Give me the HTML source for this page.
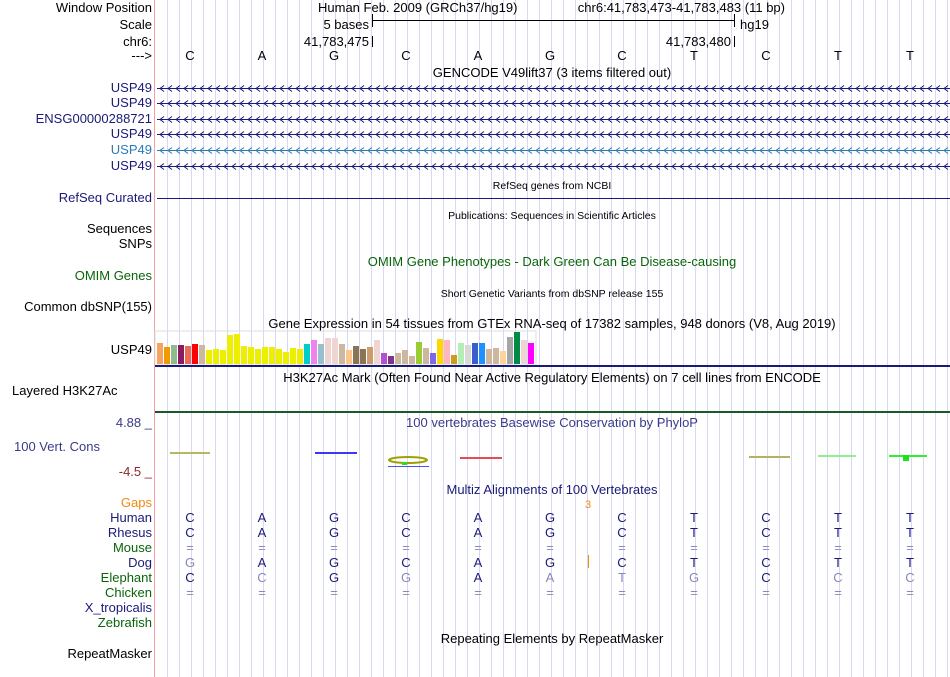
<!DOCTYPE html>
<html><head><meta charset="utf-8"><style>
body{margin:0;background:#fff;width:950px;height:677px;overflow:hidden}
svg{display:block;font-family:"Liberation Sans",sans-serif;font-size:13px}
</style></head><body>
<svg id="c" width="950" height="677">
<g id="grid"></g>
<line x1="154.5" y1="0" x2="154.5" y2="677" stroke="#f4a0a0"/>
<g text-anchor="end" fill="#000">
<text x="152" y="12">Window Position</text>
<text x="152" y="29">Scale</text>
<text x="152" y="46">chr6:</text>
<text x="152" y="60">---&gt;</text>
<text x="152" y="92" fill="#1a1a78">USP49</text>
<text x="152" y="107" fill="#1a1a78">USP49</text>
<text x="152" y="123" fill="#1a1a78">ENSG00000288721</text>
<text x="152" y="138" fill="#1a1a78">USP49</text>
<text x="152" y="154" fill="#2a7ab8">USP49</text>
<text x="152" y="170" fill="#1a1a78">USP49</text>
<text x="152" y="202" fill="#1a1a78">RefSeq Curated</text>
<text x="152" y="233">Sequences</text>
<text x="152" y="248">SNPs</text>
<text x="152" y="280" fill="#0a640a">OMIM Genes</text>
<text x="152" y="311">Common dbSNP(155)</text>
<text x="152" y="354">USP49</text>
<text x="152" y="427" fill="#3a3a8a">4.88 _</text>
<text x="152" y="476" fill="#8a2a2a">-4.5 _</text>
<text x="152" y="507" fill="#f08a10">Gaps</text>
<text x="152" y="658">RepeatMasker</text>
</g>
<text x="12" y="395">Layered H3K27Ac</text>
<text x="14" y="451" fill="#3a3a8a">100 Vert. Cons</text>
<g id="species" text-anchor="end"></g>
<text x="318" y="12">Human Feb. 2009 (GRCh37/hg19)</text>
<text x="785" y="12" text-anchor="end">chr6:41,783,473-41,783,483 (11 bp)</text>
<g text-anchor="middle">
<text x="552" y="77">GENCODE V49lift37 (3 items filtered out)</text>
<text x="552" y="189" font-size="10.5">RefSeq genes from NCBI</text>
<text x="552" y="219" font-size="10.5">Publications: Sequences in Scientific Articles</text>
<text x="552" y="266" fill="#0a640a">OMIM Gene Phenotypes - Dark Green Can Be Disease-causing</text>
<text x="552" y="297" font-size="10.5">Short Genetic Variants from dbSNP release 155</text>
<text x="552" y="328">Gene Expression in 54 tissues from GTEx RNA-seq of 17382 samples, 948 donors (V8, Aug 2019)</text>
<text x="552" y="382">H3K27Ac Mark (Often Found Near Active Regulatory Elements) on 7 cell lines from ENCODE</text>
<text x="552" y="427" fill="#3a3a8a">100 vertebrates Basewise Conservation by PhyloP</text>
<text x="552" y="494" fill="#1a1a78">Multiz Alignments of 100 Vertebrates</text>
<text x="552" y="643">Repeating Elements by RepeatMasker</text>
<text x="588" y="508" fill="#f08a10" font-size="11">3</text>
</g>
<g>
<text x="369" y="29" text-anchor="end">5 bases</text>
<line x1="372" y1="20.5" x2="734" y2="20.5" stroke="#000"/>
<line x1="372.5" y1="14" x2="372.5" y2="27" stroke="#000"/>
<line x1="734.5" y1="14" x2="734.5" y2="27" stroke="#000"/>
<text x="740" y="29">hg19</text>
<text x="369" y="46" text-anchor="end">41,783,475</text>
<line x1="372.5" y1="36" x2="372.5" y2="47" stroke="#000"/>
<text x="731" y="46" text-anchor="end">41,783,480</text>
<line x1="734.5" y1="36" x2="734.5" y2="47" stroke="#000"/>
</g>
<g id="genes"></g>
<line x1="157" y1="198.5" x2="950" y2="198.5" stroke="#1a1a78"/>
<rect x="155" y="331" width="381" height="34" fill="none" stroke="#ddd"/>
<g id="bars"></g>
<rect x="155" y="365" width="795" height="2" fill="#1a1a78"/>
<rect x="155" y="411" width="795" height="2" fill="#1a5a2a"/>
<g id="cons"></g>
<g id="seq" text-anchor="middle"></g>
<line x1="588.5" y1="555" x2="588.5" y2="568" stroke="#f08a10"/>
</svg>
<script>
const bases=["C","A","G","C","A","G","C","T","C","T","T"];
const gtexValues=[21,17,19,19,18,20,19,14,15,14,29,30,18,17,15,17,17,15,12,16,15,20,24,20,26,26,20,14,18,15,17,24,11,8,11,14,8,22,16,11,25,24,9,21,19,21,21,15,16,13,27,32,24,21];
const gtexColors=["#f4a460","#ee9a00","#8fbc8f","#8b1c62","#ee6a50","#ff0000","#cdb79e","#eeee00","#eeee00","#eeee00","#eeee00","#eeee00","#eeee00","#eeee00","#eeee00","#eeee00","#eeee00","#eeee00","#eeee00","#eeee00","#eeee00","#00cdcd","#ee82ee","#9ac0cd","#eed5d2","#eed5d2","#cdb79e","#ffc48c","#8b7355","#8b7355","#cd9b6e","#eed5d2","#b452cd","#7a378b","#cdb79e","#cdb79e","#cdb79e","#9acd32","#cdb79e","#7b68ee","#ffd700","#ffb6c1","#cd9b1d","#b4eeb4","#d9d9d9","#3a5fcd","#1e90ff","#cdb79e","#cdb79e","#ffd39b","#a6a6a6","#008b45","#eed5d2","#ff00ff"];
const dog=["G","A","G","C","A","G","C","T","C","T","T"];
const dogGray=[1,0,0,0,0,0,0,0,0,0,0];
const eleph=["C","C","G","G","A","A","T","G","C","C","C"];
const elephGray=[0,1,0,1,0,1,1,1,0,1,1];
const species=["Human","Rhesus","Mouse","Dog","Elephant","Chicken","X_tropicalis","Zebrafish"];
const speciesColors=["#1a1a78","#1a1a78","#0a640a","#1a1a78","#0a640a","#0a640a","#1a1a78","#0a640a"];
const NS="http://www.w3.org/2000/svg";
function mk(p,t,a){const e=document.createElementNS(NS,t);for(const k in a)e.setAttribute(k,a[k]);p.appendChild(e);return e;}
const xBase=i=>190+i*72;
const grid=document.getElementById('grid');
for(let x=167;x<950;x+=12){const l=mk(grid,'line',{x1:x+.5,y1:0,x2:x+.5,y2:677,stroke:'#d8d8f4'});

}
const svgRoot=document.getElementById('c');
bases.forEach((b,i)=>{const t=mk(svgRoot,'text',{x:xBase(i),y:60,'text-anchor':'middle'});t.textContent=b;

});
const genes=document.getElementById('genes');
[88,103,119,134,150,166].forEach((y,j)=>{const col=j==4?'#2a7ab8':'#1a1a78';
const g=mk(genes,'g',{});


mk(g,'line',{x1:157,y1:y+.5,x2:950,y2:y+.5,stroke:col});
let d='';for(let x=160;x<948;x+=8){d+=`M${x+4} ${y-2.5}L${x} ${y+.5}L${x+4} ${y+3.5}`;}
mk(g,'path',{d:d,stroke:col,fill:'none','stroke-width':1});});
const bars=document.getElementById('bars');const maxV=32,baseY=364;
gtexValues.forEach((v,i)=>{const h=v/maxV*32;const r=mk(bars,'rect',{x:157+i*7,y:baseY-h,width:6,height:h,fill:gtexColors[i]});

});
const cons=document.getElementById('cons');
const cm=[[170,210,453,'#b8b860'],[315,357,453,'#3a3aee'],[460,502,458,'#e05050'],[749,790,457,'#b8b060'],[818,856,456,'#90ee90'],[889,927,456,'#30ee30']];
cm.forEach((c,i)=>{const r=mk(cons,'rect',{x:c[0],y:c[2]-1,width:c[1]-c[0],height:2,fill:c[3]});

});
mk(cons,'ellipse',{cx:408,cy:460,rx:19,ry:3,fill:'none',stroke:'#a0a000','stroke-width':2});
mk(cons,'rect',{x:402,y:462,width:5,height:3,fill:'#20e020'});
mk(cons,'rect',{x:388,y:466,width:41,height:1,fill:'#5050ee'});
mk(cons,'rect',{x:903,y:455,width:6,height:6,fill:'#20e020'});
const sp=document.getElementById('species');const seq=document.getElementById('seq');
species.forEach((s,j)=>{const y=522+j*15;const t=mk(sp,'text',{x:152,y:y,fill:speciesColors[j]});t.textContent=s;


if(j>5)return;
bases.forEach((b,i)=>{let ch=b,col='#1a1a78';
if(j==2||j==5){ch='=';col='#8888bb';}
if(j==3){ch=dog[i];if(dogGray[i])col='#8888bb';}
if(j==4){ch=eleph[i];if(elephGray[i])col='#8888bb';}
const e=mk(seq,'text',{x:xBase(i),y:y,fill:col});e.textContent=ch;

});});
</script>
</body></html>
